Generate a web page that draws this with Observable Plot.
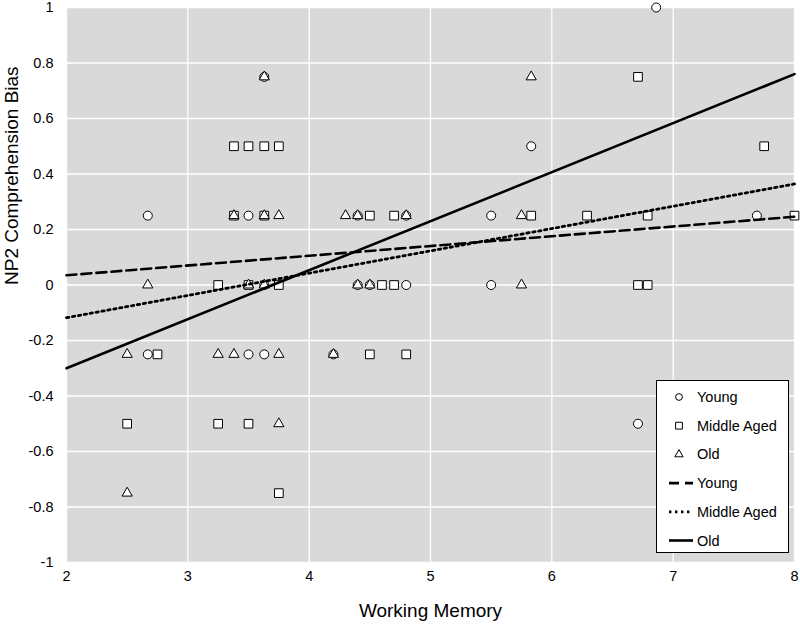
<!DOCTYPE html>
<html><head><meta charset="utf-8">
<script src="https://cdn.jsdelivr.net/npm/d3@7"></script>
<script src="https://cdn.jsdelivr.net/npm/@observablehq/plot@0.6"></script>
<style>
body{margin:0;background:#fff;font-family:"Liberation Sans",Arial,sans-serif;}
#wrap{position:relative;width:800px;height:626px;}
#legend{position:absolute;left:656px;top:380px;width:133px;height:173px;background:#fff;border:1px solid #000;box-sizing:border-box;}
#legend svg{position:absolute;left:-1px;top:-1px;}
</style></head><body><div id="wrap"><div id="legend"></div></div>
<script>
// Data (Working Memory, NP2 Comprehension Bias)
const youngX = [6.86, 3.63, 5.83, 2.67, 3.50, 4.40, 4.80, 5.50, 7.69, 3.63, 4.40, 4.50, 4.80, 5.50, 2.67, 3.50, 3.63, 4.20, 6.71];
const youngY = [1.00, 0.75, 0.50, 0.25, 0.25, 0.25, 0.25, 0.25, 0.25, 0.00, 0.00, 0.00, 0.00, 0.00, -0.25, -0.25, -0.25, -0.25, -0.50];

const middleX = [6.71, 3.38, 3.50, 3.63, 3.75, 7.75, 3.38, 3.63, 4.50, 4.70, 5.83, 6.29, 6.79, 8.00, 3.25, 3.50, 3.75, 4.60, 4.70, 6.71, 6.79, 2.75, 4.50, 4.80, 2.50, 3.25, 3.50, 3.75];
const middleY = [0.75, 0.50, 0.50, 0.50, 0.50, 0.50, 0.25, 0.25, 0.25, 0.25, 0.25, 0.25, 0.25, 0.25, 0.00, 0.00, 0.00, 0.00, 0.00, 0.00, 0.00, -0.25, -0.25, -0.25, -0.50, -0.50, -0.50, -0.75];

const oldX = [3.63, 5.83, 3.38, 3.63, 3.75, 4.30, 4.40, 4.80, 5.75, 2.67, 3.50, 3.63, 4.40, 4.50, 5.75, 2.50, 3.25, 3.38, 3.75, 4.20, 3.75, 2.50];
const oldY = [0.75, 0.75, 0.25, 0.25, 0.25, 0.25, 0.25, 0.25, 0.25, 0.00, 0.00, 0.00, 0.00, 0.00, 0.00, -0.25, -0.25, -0.25, -0.25, -0.25, -0.50, -0.75];

// Trend lines (endpoints at x = 2 and x = 8)
const trendX = [2, 8];
const youngTrend = [0.035, 0.246];
const middleTrend = [-0.118, 0.364];
const oldTrend = [-0.30, 0.76];

const groups = ["Young", "Middle Aged", "Old"];
const xTicks = [2, 3, 4, 5, 6, 7, 8];
const yTicks = [-1, -0.8, -0.6, -0.4, -0.2, 0, 0.2, 0.4, 0.6, 0.8, 1];
const xTitle = "Working Memory";
const yTitle = "NP2 Comprehension Bias";

const toRows = (xs, ys) => xs.map((x, i) => ({x, y: ys[i]}));
const young = toRows(youngX, youngY);
const middle = toRows(middleX, middleY);
const old = toRows(oldX, oldY);

const lineStyle = {x: "x", y: "y", stroke: "#000", strokeWidth: 2.6};
const dotDash = "2.4,3.6";

const chart = Plot.plot({
  width: 800, height: 626,
  marginLeft: 66, marginRight: 6, marginTop: 7, marginBottom: 64,
  style: {fontFamily: "'Liberation Sans', Arial, sans-serif", fontSize: "14.5px", color: "#000", background: "#fff", overflow: "visible"},
  x: {domain: [2, 8], label: null},
  y: {domain: [-1, 1], label: null},
  marks: [
    Plot.frame({fill: "#d9d9d9", stroke: "none"}),
    Plot.gridX(xTicks, {stroke: "#fff", strokeOpacity: 1, strokeWidth: 1.3}),
    Plot.gridY(yTicks, {stroke: "#fff", strokeOpacity: 1, strokeWidth: 1.3}),
    Plot.axisX(xTicks, {tickSize: 0, tickPadding: 8, tickFormat: d => String(d), label: null, fontSize: 14.5}),
    Plot.axisY(yTicks, {tickSize: 0, tickPadding: 13, tickFormat: d => String(+d.toFixed(1)), label: null, fontSize: 14.5}),
    Plot.dot(young, {x: "x", y: "y", symbol: "circle", r: 4.5, fill: "#fff", stroke: "#000", strokeWidth: 1}),
    Plot.dot(middle, {x: "x", y: "y", symbol: "square", r: 4.9, fill: "#fff", stroke: "#000", strokeWidth: 1}),
    Plot.dot(old, {x: "x", y: "y", symbol: "triangle", r: 3.8, fill: "#fff", stroke: "#000", strokeWidth: 1}),
    Plot.line(toRows(trendX, youngTrend), {...lineStyle, strokeDasharray: "10,5"}),
    Plot.line(toRows(trendX, middleTrend), {...lineStyle, strokeWidth: 2.8, strokeDasharray: dotDash}),
    Plot.line(toRows(trendX, oldTrend), {...lineStyle}),
    Plot.text([xTitle], {frameAnchor: "bottom", dy: 48, fontSize: 19, text: d => d, lineAnchor: "middle"}),
    Plot.text([yTitle], {frameAnchor: "left", dx: -55, rotate: -90, fontSize: 19, text: d => d, lineAnchor: "middle"})
  ]
});
const wrap = document.getElementById("wrap");
wrap.insertBefore(chart, wrap.firstChild);

// Legend
const legendItems = [
  {label: groups[0], kind: "sym", sym: d3.symbolCircle, size: 36},
  {label: groups[1], kind: "sym", sym: d3.symbolSquare, size: 46},
  {label: groups[2], kind: "sym", sym: d3.symbolTriangle, size: 30},
  {label: groups[0], kind: "line", dash: "10,6", w: 2.6},
  {label: groups[1], kind: "line", dash: dotDash, w: 2.8},
  {label: groups[2], kind: "line", dash: null, w: 2.6}
];
const lsvg = d3.select("#legend").append("svg").attr("width", 133).attr("height", 173)
  .style("font-family", "'Liberation Sans', Arial, sans-serif").style("font-size", "14.5px");
legendItems.forEach((it, i) => {
  const cy = 17 + i * 28.7;
  if (it.kind === "sym") {
    lsvg.append("path").attr("d", d3.symbol(it.sym, it.size)()).attr("transform", `translate(23,${cy})`)
      .attr("fill", "#fff").attr("stroke", "#000").attr("stroke-width", 1);
  } else {
    lsvg.append("line").attr("x1", 13).attr("x2", 37).attr("y1", cy).attr("y2", cy)
      .attr("stroke", "#000").attr("stroke-width", it.w).attr("stroke-dasharray", it.dash);
  }
  lsvg.append("text").attr("x", 41).attr("y", cy).attr("dy", "0.35em").text(it.label);
});
</script>
</body></html>
